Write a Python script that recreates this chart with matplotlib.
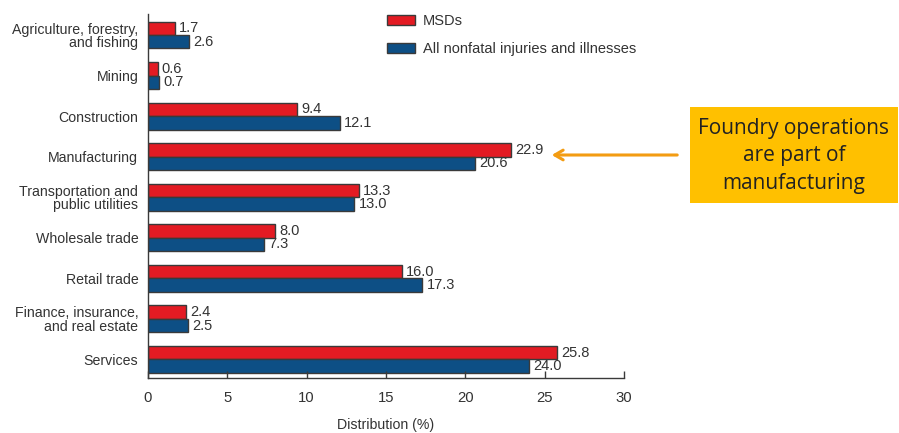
import matplotlib
matplotlib.use("Agg")
import matplotlib.pyplot as plt
from matplotlib.patches import Rectangle
import numpy as np

categories = ["Agriculture, forestry,\nand fishing", "Mining", "Construction", "Manufacturing",
              "Transportation and\npublic utilities", "Wholesale trade", "Retail trade",
              "Finance, insurance,\nand real estate", "Services"]
msds = [1.7, 0.6, 9.4, 22.9, 13.3, 8.0, 16.0, 2.4, 25.8]
all_injuries = [2.6, 0.7, 12.1, 20.6, 13.0, 7.3, 17.3, 2.5, 24.0]
xticks = [0, 5, 10, 15, 20, 25, 30]

RED = "#E31B23"
BLUE = "#0D4F85"
EDGE = "#3a3a3a"
TXT = "#333333"
FS = 10.2

plt.rcParams['font.family'] = ['Liberation Sans', 'DejaVu Sans']

fig = plt.figure(figsize=(8.99, 4.33), dpi=100)
ax = fig.add_axes([148/899, 55/433, (624-148)/899, (378-14)/433])

y = np.arange(len(categories))
h = 0.33
ax.barh(y - h/2, msds, height=h, color=RED, edgecolor=EDGE, linewidth=1.0, label="MSDs")
ax.barh(y + h/2, all_injuries, height=h, color=BLUE, edgecolor=EDGE, linewidth=1.0,
        label="All nonfatal injuries and illnesses")

for yy, v in zip(y - h/2, msds):
    ax.annotate(f"{v:.1f}", (v, yy), xytext=(3, 0), textcoords="offset points",
                va="center", ha="left", fontsize=FS + 0.3, color=TXT)
for yy, v in zip(y + h/2, all_injuries):
    ax.annotate(f"{v:.1f}", (v, yy), xytext=(3, 0), textcoords="offset points",
                va="center", ha="left", fontsize=FS + 0.3, color=TXT)

ax.set_xlim(0, 30)
ax.set_ylim(8.46, -0.52)
ax.set_xticks(xticks)
ax.set_xticklabels([str(t) for t in xticks], fontsize=FS + 0.5, color=TXT)
ax.set_yticks(y)
ax.set_yticklabels(categories, fontsize=FS, color=TXT, linespacing=0.95)
ax.tick_params(axis="y", length=0, pad=7)
ax.tick_params(axis="x", direction="in", length=5, width=1, color=EDGE, pad=9)
for s in ["top", "right"]:
    ax.spines[s].set_visible(False)
for s in ["left", "bottom"]:
    ax.spines[s].set_color(EDGE)
    ax.spines[s].set_linewidth(1.0)
ax.set_xlabel("Distribution (%)", fontsize=FS, color=TXT, labelpad=10)

leg = ax.legend(loc="upper left", bbox_to_anchor=(374/899, 1 - 1/433), bbox_transform=fig.transFigure,
                frameon=False, fontsize=FS + 0.3, handlelength=1.9, handleheight=0.75,
                labelspacing=0.95, handletextpad=0.55)
for t in leg.get_texts():
    t.set_color(TXT)

# callout box
fig.patches.append(Rectangle((690/899, 1 - 203/433), (898-690)/899, 96/433,
                             transform=fig.transFigure, facecolor="#FFC000", edgecolor="none"))
fig.text((690+898)/2/899, 1 - 156/433,
         "Foundry operations\nare part of\nmanufacturing",
         ha="center", va="center", fontsize=15, family=["Open Sans", "DejaVu Sans"],
         color="#222222", linespacing=1.42)
ax.annotate("", xy=(549/899, 1 - 155/433), xycoords="figure fraction",
            xytext=(680/899, 1 - 155/433), textcoords="figure fraction",
            arrowprops=dict(arrowstyle="->,head_length=0.6,head_width=0.35", color="#F39C12", lw=2.2),
            annotation_clip=False)

fig.savefig("out.png", dpi=100)
